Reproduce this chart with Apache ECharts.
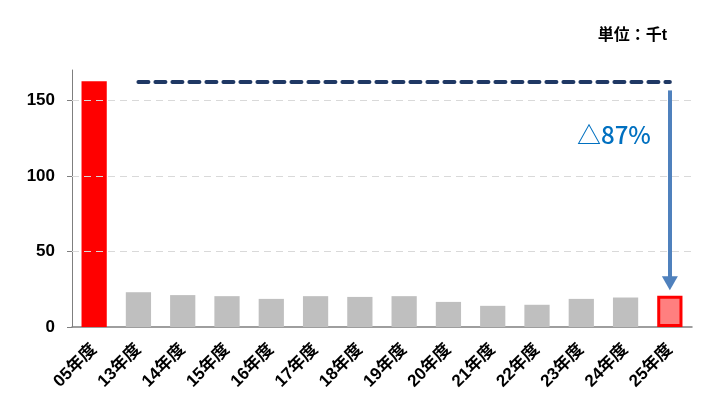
<!DOCTYPE html>
<html>
<head>
<meta charset="utf-8">
<script src="https://cdn.jsdelivr.net/npm/echarts@6/dist/echarts.min.js"></script>
<style>
  html, body { margin: 0; padding: 0; background: #fff; }
  #chart { width: 720px; height: 412px; }
</style>
</head>
<body>
<div id="chart"></div>
<script>
const categories = ['05年度', '13年度', '14年度', '15年度', '16年度', '17年度', '18年度',
  '19年度', '20年度', '21年度', '22年度', '23年度', '24年度', '25年度']
const amounts = [162.5, 23.0, 21.1, 20.4, 18.6, 20.4, 19.9, 20.4, 16.6, 14.0, 14.7, 18.6, 19.5, 20.7]
const yTicks = [0, 50, 100, 150]
const gridValues = [50, 100, 150]
const arrowFrom = 156.5
const arrowTo = 29
const reductionText = '△87%'
const unitText = '単位：千t'

const font = '"Liberation Sans", "Noto Sans CJK JP", sans-serif'
const last = categories.length - 1

const barData = amounts.map((v, i) => {
  if (i === 0) return { value: v, itemStyle: { color: '#FF0000' } }
  if (i === last) {
    return { value: v, itemStyle: { color: '#FF7F7F', borderColor: '#FF0000', borderWidth: 3 } }
  }
  return { value: v, itemStyle: { color: '#BFBFBF' } }
})

const chart = echarts.init(document.getElementById('chart'))

chart.setOption({
  animation: false,
  grid: { left: 72, right: 28, top: 70, bottom: 85, containLabel: false },
  title: {
    text: unitText,
    right: 48,
    top: 23,
    textStyle: { fontFamily: font, fontSize: 16, fontWeight: 'bold', color: '#000' },
  },
  graphic: [
    {
      type: 'text',
      left: 577,
      top: 123,
      style: { text: reductionText, fill: '#0070C0', font: '500 24px "Noto Sans CJK JP", sans-serif' },
    },
  ],
  xAxis: {
    type: 'category',
    data: categories,
    axisLine: { lineStyle: { color: '#7F7F7F', width: 1.5 } },
    axisTick: { inside: true, length: 5, lineStyle: { color: '#7F7F7F' } },
    axisLabel: {
      rotate: 45,
      interval: 0,
      margin: 20,
      fontFamily: font,
      fontSize: 17,
      fontWeight: 'bold',
      color: '#000',
    },
  },
  yAxis: {
    type: 'value',
    min: 0,
    max: 170,
    interval: 50,
    axisLine: { show: true, lineStyle: { color: '#7F7F7F', width: 1 } },
    axisTick: { show: true, length: 5, customValues: yTicks, lineStyle: { color: '#7F7F7F' } },
    axisLabel: {
      customValues: yTicks,
      margin: 17,
      fontFamily: font,
      fontSize: 17,
      fontWeight: 'bold',
      color: '#000',
    },
    splitLine: { show: false },
  },
  series: [
    {
      type: 'bar',
      data: barData,
      barWidth: '57%',
      markLine: {
        silent: true,
        symbol: 'none',
        label: { show: false },
        lineStyle: { color: '#D9D9D9', type: [7, 5], width: 1 },
        data: gridValues.map((v) => ({ yAxis: v })),
      },
    },
    {
      type: 'line',
      data: [],
      markLine: {
        silent: true,
        label: { show: false },
        data: [
          [
            { coord: [categories[1], amounts[0]], symbol: 'none',
              lineStyle: { color: '#1F3864', width: 4, type: [10, 7], cap: 'round' } },
            { coord: [categories[last], amounts[0]], symbol: 'none' },
          ],
          [
            { coord: [categories[last], arrowFrom], symbol: 'none',
              lineStyle: { color: '#4F81BD', width: 4, type: 'solid' } },
            { coord: [categories[last], arrowTo], symbol: 'triangle', symbolSize: [16, 14] },
          ],
        ],
      },
    },
  ],
})
</script>
</body>
</html>
